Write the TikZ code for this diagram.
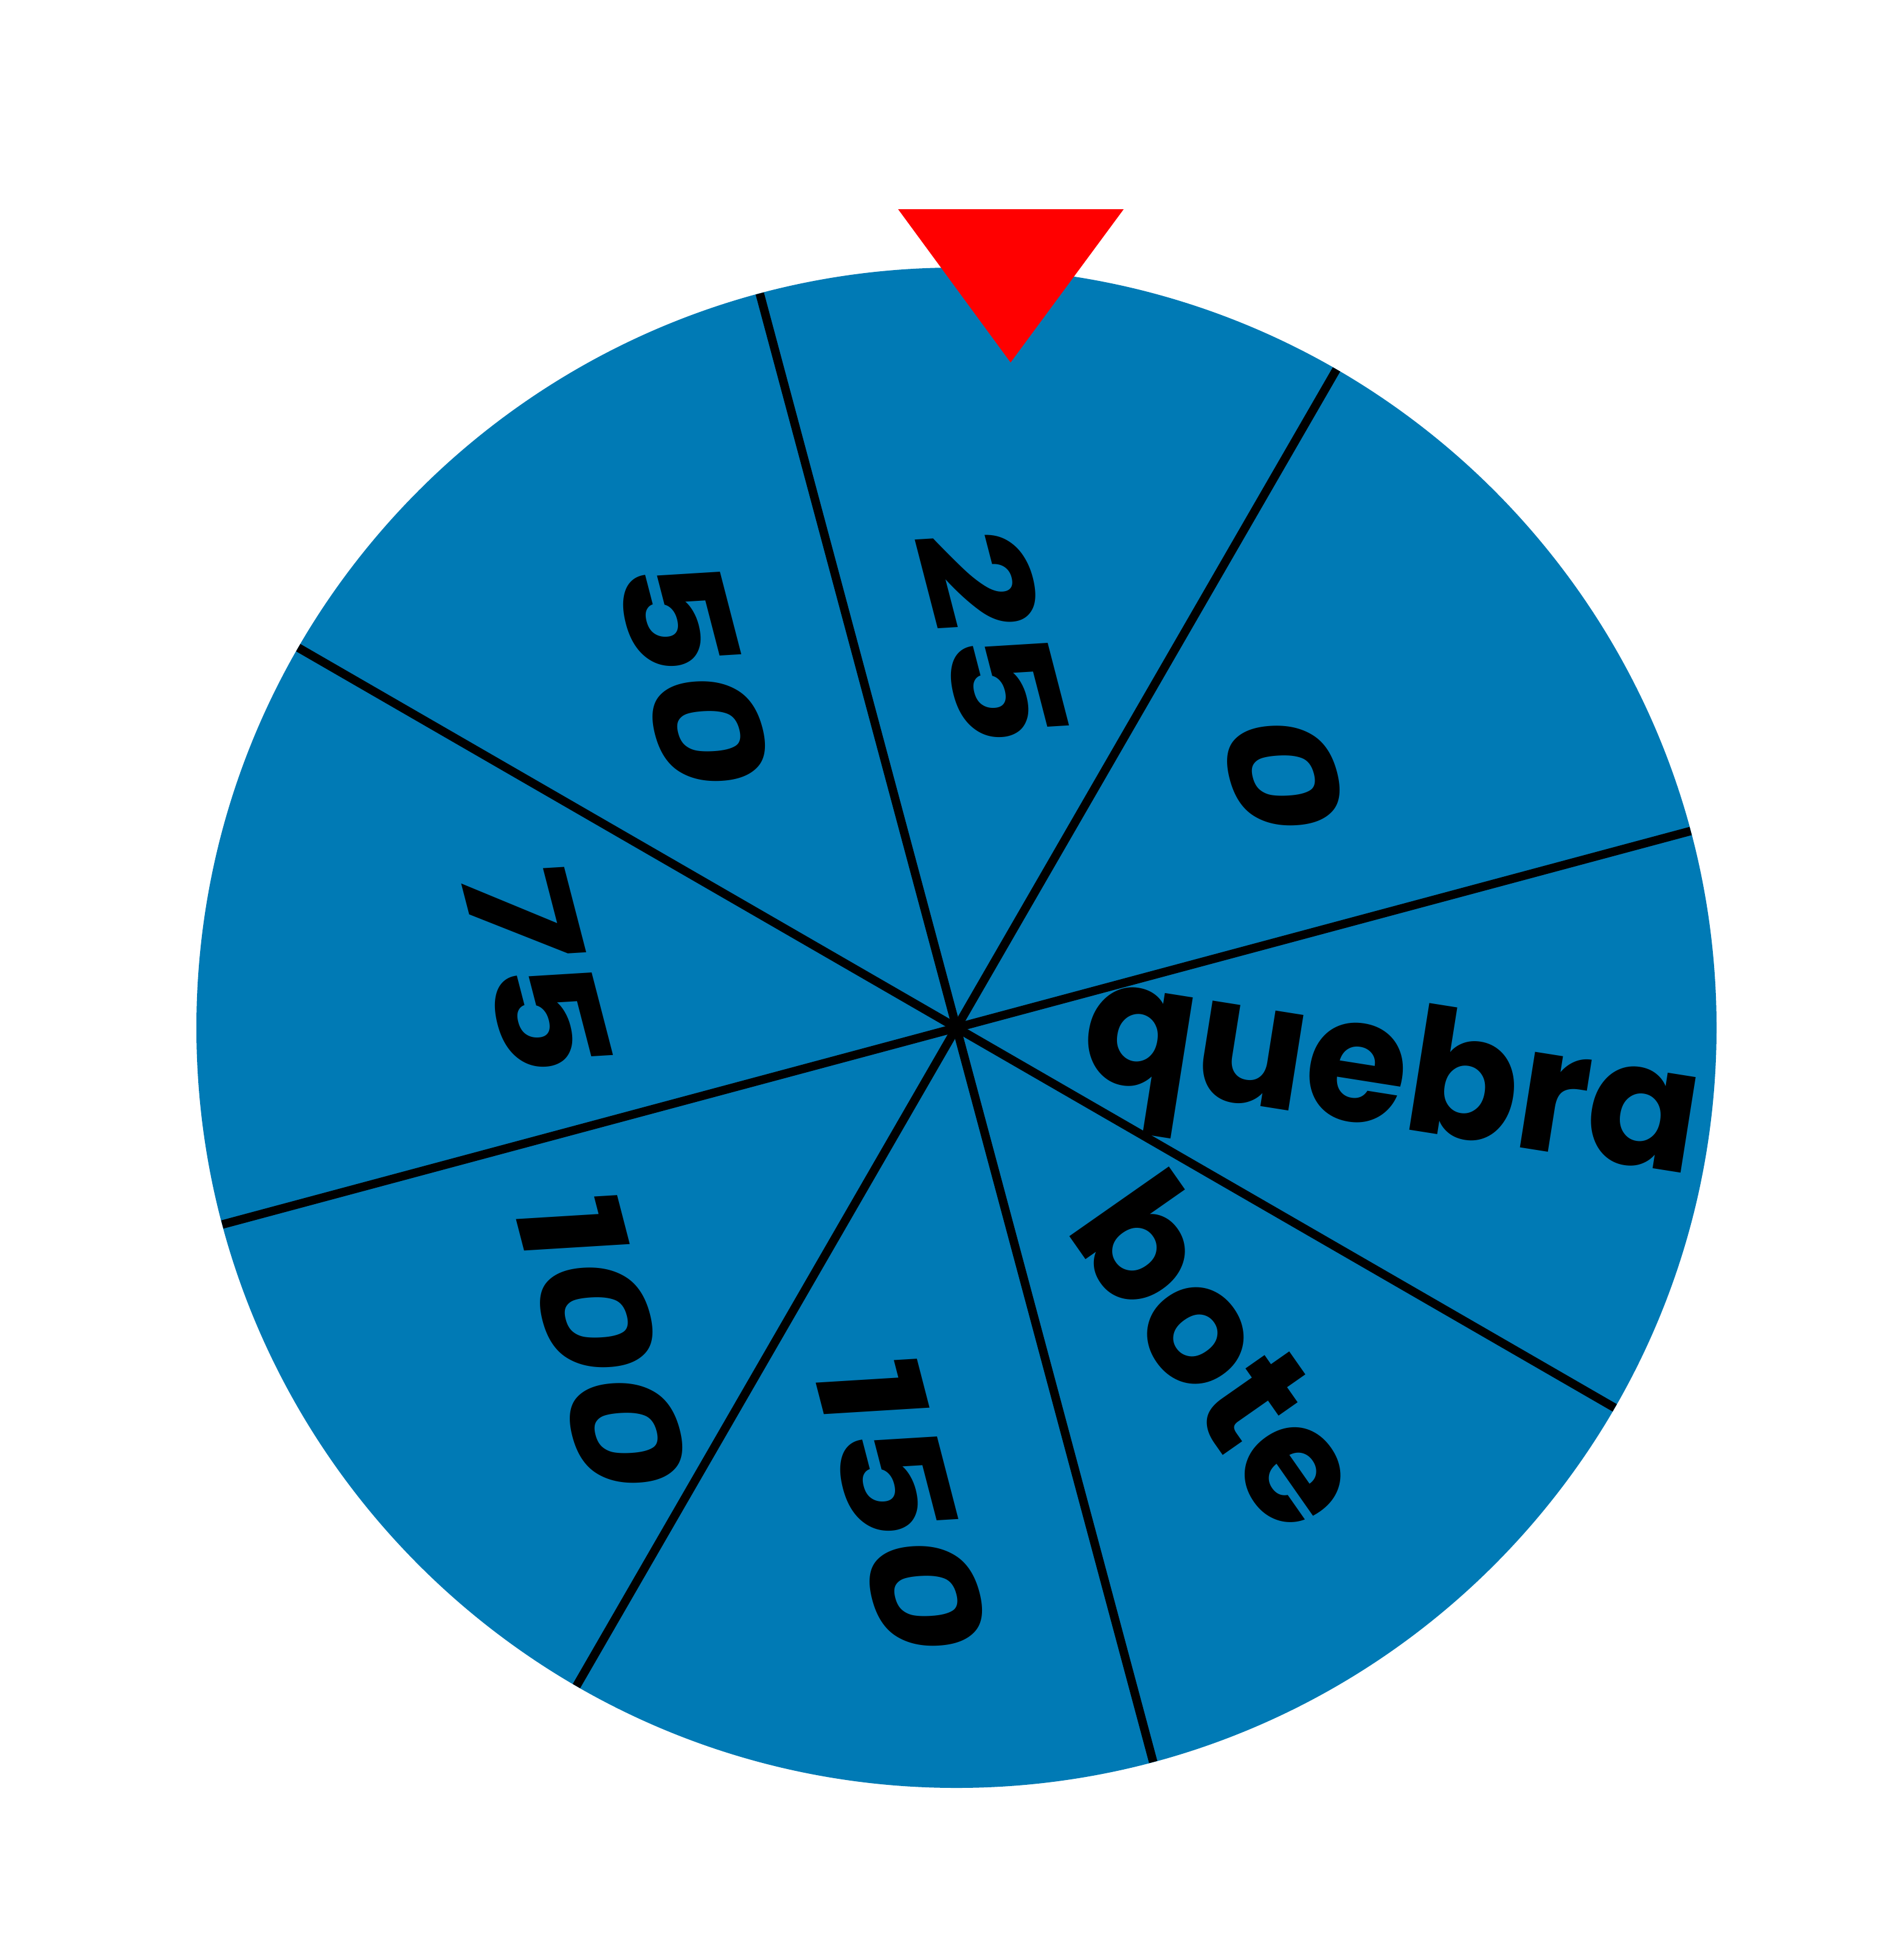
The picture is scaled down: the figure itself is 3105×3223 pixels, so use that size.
\documentclass[tikz,border=0pt]{standalone}
\usepackage{fontspec}
\newfontfamily\wheelfont{Poppins}[BoldFont={Poppins Bold}]
\definecolor{wheelblue}{RGB}{0,122,181}
\definecolor{pointerred}{RGB}{255,0,0}
\begin{document}
\begin{tikzpicture}[x=1pt,y=-1pt,
  divider/.style={line width=14pt, draw=black},
  lbl/.style={font=\wheelfont\bfseries\fontsize{100}{100}\selectfont, text=black, inner sep=0pt, anchor=center, transform shape}]
\fill[white] (0,0) rectangle (3105,3223);
\useasboundingbox (0,0) rectangle (3105,3223);
\coordinate (c) at (1573,1690);
\fill[wheelblue] (c) circle[radius=1250];
\foreach \a [count=\i] in {15,60,105,150,195,240,285,330} {
  \coordinate (e\i) at ([shift={(-\a:1250)}]c);
  \draw[divider] (c) -- (e\i);
}
\coordinate (t1) at (1477,344);
\coordinate (t2) at (1848,344);
\coordinate (t3) at (1662,596);
\fill[pointerred] (t1) -- (t2) -- (t3) -- cycle;
% numeric labels
\node[lbl, cm={0.752,-2.906,2.381,0.146,(2111,1276)}] (l0) at (0,0) {0};
\node[lbl, cm={0.752,-2.906,2.381,0.146,(1634,1048)}] (l25) at (0,0) {25};
\node[lbl, cm={0.752,-2.906,2.381,0.146,(1141,1108)}] (l50) at (0,0) {50};
\node[lbl, cm={0.752,-2.906,2.381,0.146,(884,1595)}] (l75) at (0,0) {75};
\node[lbl, cm={0.752,-2.906,2.381,0.146,(991,2207)}] (l100) at (0,0) {100};
\node[lbl, cm={0.752,-2.906,2.381,0.146,(1484,2476)}] (l150) at (0,0) {150};
\node[lbl, cm={1.549,-2.212,2.212,1.549,(2012,2221)}] (lbote) at (0,0) {bote};
\node[lbl, cm={2.687,-0.425,0.446,2.815,(2287,1785)}] (lquebra) at (0,0) {quebra};
\end{tikzpicture}
\end{document}
